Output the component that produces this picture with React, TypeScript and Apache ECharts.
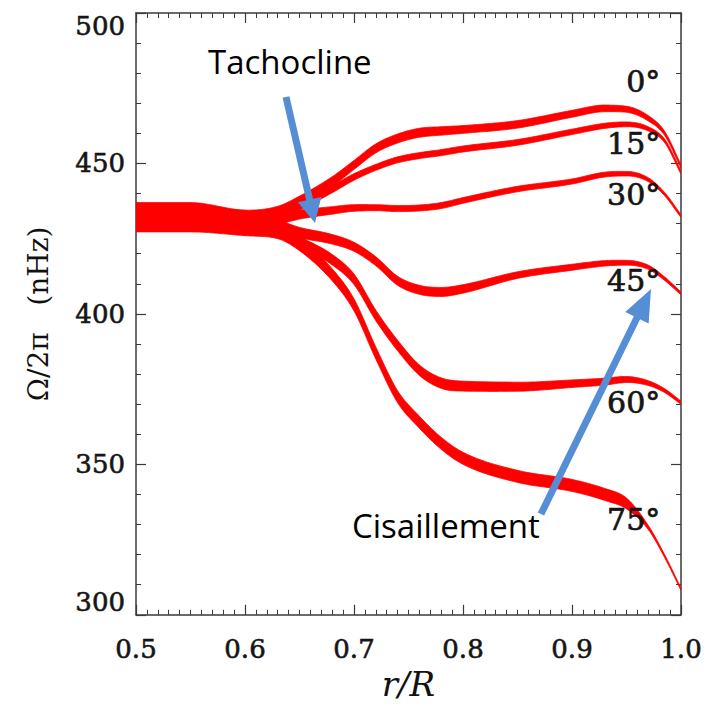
import React, { useEffect, useRef } from "react";
import * as echarts from "echarts";

// r/R sample positions shared by every latitude curve
const radius = [0.5, 0.55, 0.6, 0.63, 0.65, 0.68, 0.7, 0.72, 0.74, 0.76, 0.78, 0.8, 0.85, 0.9, 0.93, 0.95, 0.97, 0.985, 1.0];

// Ω/2π (nHz) centre of each band, and band thickness (nHz)
const omega0 = [434.5, 434.5, 432.5, 434, 437.5, 444, 449.5, 455, 458.3, 460.2, 460.8, 461.3, 463, 466.5, 468.3, 468, 465, 460, 449];
const width0 = [5, 5, 4, 3.5, 3.3, 3.2, 3, 3, 3, 3, 2.8, 2.6, 2.5, 2.3, 2.2, 2, 1.8, 1.4, 1.2];

const omega15 = [434, 434, 432, 433, 436, 441.5, 445.5, 448.7, 451.2, 452.6, 453.6, 454.8, 457, 460.5, 462.5, 463, 461.5, 457.5, 447];
const width15 = [4, 4, 4, 3.5, 3, 2.5, 2.2, 2, 2, 2, 2, 2, 1.9, 1.8, 1.7, 1.6, 1.4, 1.2, 1.1];

const omega30 = [432.5, 432.5, 431, 431.5, 433, 434.4, 435.2, 435.3, 435, 435.2, 436, 437.7, 441.5, 444, 446.3, 446.6, 444.6, 439.8, 432.5];
const width30 = [4, 4, 4, 3.5, 3, 2.5, 2.2, 2, 2, 2, 2, 1.9, 1.8, 1.7, 1.6, 1.5, 1.3, 1.1, 1];

const omega45 = [431, 431, 429.5, 429, 427, 424.8, 422.3, 417.5, 411, 408, 407.3, 408.3, 412.9, 415.5, 416.8, 417, 415.5, 411.7, 406.8];
const width45 = [4.5, 4.5, 4, 4, 3.5, 3.2, 3, 3, 3, 3, 3, 2.8, 2.2, 2, 1.8, 1.6, 1.4, 1.2, 1];

const omega60 = [430, 430, 428.5, 428, 424, 418, 411.5, 399.5, 389.5, 381.3, 377, 376, 375.8, 376.8, 377.5, 378.2, 377, 374.5, 370.5];
const width60 = [4.5, 4.5, 4, 4, 3.5, 3.5, 3.5, 3.5, 3.5, 3.5, 3.5, 3.3, 3, 2.5, 2.3, 2, 1.6, 1.3, 1.1];

const omega75 = [429.5, 429.5, 428, 427, 423, 413, 403, 387, 372.5, 364, 357, 352, 346, 343, 340, 337, 329, 319.5, 308.5];
const width75 = [4.5, 4.5, 4, 4, 4, 4, 4, 4, 4, 4, 4, 4, 4, 4, 4, 3.6, 1.4, 1, 0.8];

// latitude labels and their anchors (right edge, vertical middle) in data space
const latitudeLabels = ["0°", "15°", "30°", "45°", "60°", "75°"];
const labelR = [0.981, 0.981, 0.981, 0.981, 0.981, 0.981];
const labelOmega = [477.2, 456.7, 439.8, 411.1, 370.7, 331.7];

// axis ranges
const xMin = 0.5, xMax = 1.0, xStep = 0.1;
const yMin = 300, yMax = 500, yStep = 50;

const RED = "#ff0000";
const BLUE = "#558ed5";
const AXIS = "#3a3a3a";
const INK = "#151515";
const SERIF = "DejaVu Serif";

// monotone cubic (Fritsch–Carlson) evaluation of a curve through the given samples
function monotoneSampler(xs: number[], ys: number[]) {
  const m = xs.length;
  const h: number[] = [], d: number[] = [];
  for (let i = 0; i < m - 1; i++) {
    h[i] = xs[i + 1] - xs[i];
    d[i] = (ys[i + 1] - ys[i]) / h[i];
  }
  const t: number[] = new Array(m).fill(0);
  t[0] = d[0];
  t[m - 1] = d[m - 2];
  for (let i = 1; i < m - 1; i++) t[i] = d[i - 1] * d[i] <= 0 ? 0 : (d[i - 1] + d[i]) / 2;
  for (let i = 0; i < m - 1; i++) {
    if (d[i] === 0) { t[i] = 0; t[i + 1] = 0; continue; }
    const a = t[i] / d[i], b = t[i + 1] / d[i];
    const s = a * a + b * b;
    if (s > 9) { const tau = 3 / Math.sqrt(s); t[i] = tau * a * d[i]; t[i + 1] = tau * b * d[i]; }
  }
  return (i: number, s: number) => {
    const s2 = s * s, s3 = s2 * s;
    return (2 * s3 - 3 * s2 + 1) * ys[i] + (s3 - 2 * s2 + s) * h[i] * t[i] + (-2 * s3 + 3 * s2) * ys[i + 1] + (s3 - s2) * h[i] * t[i + 1];
  };
}

function arrow(x0: number, y0: number, x1: number, y1: number, headLen: number, headHalf: number) {
  const dx = x1 - x0, dy = y1 - y0;
  const L = Math.hypot(dx, dy);
  const ux = dx / L, uy = dy / L;
  const bx = x1 - ux * headLen, by = y1 - uy * headLen;
  const px = -uy, py = ux;
  return [
    { type: "line", shape: { x1: x0, y1: y0, x2: bx + ux * 2, y2: by + uy * 2 }, style: { stroke: BLUE, lineWidth: 7 }, z: 50 },
    {
      type: "polygon",
      shape: { points: [[x1, y1], [bx + px * headHalf, by + py * headHalf], [bx - px * headHalf, by - py * headHalf]] },
      style: { fill: BLUE },
      z: 50,
    },
  ];
}

export default function App() {
  const ref = useRef<HTMLDivElement>(null);
  useEffect(() => {
    if (!ref.current) return;
    const chart = echarts.init(ref.current, undefined, { renderer: "svg" });
    const curves = [
      { name: "0°", c: omega0, w: width0 },
      { name: "15°", c: omega15, w: width15 },
      { name: "30°", c: omega30, w: width30 },
      { name: "45°", c: omega45, w: width45 },
      { name: "60°", c: omega60, w: width60 },
      { name: "75°", c: omega75, w: width75 },
    ];
    const STEPS = 12;
    const series: any[] = curves.map((cv) => ({
      type: "custom",
      name: cv.name,
      silent: true,
      clip: true,
      z: 2,
      data: radius.map((r, k) => [r, cv.c[k]]),
      encode: { x: 0, y: 1 },
      renderItem: (params: any, api: any) => {
        if (params.dataIndex !== 0) return null;
        const fc = monotoneSampler(radius, cv.c);
        const fw = monotoneSampler(radius, cv.w);
        const upper: number[][] = [];
        const lower: number[][] = [];
        for (let i = 0; i < radius.length - 1; i++) {
          for (let s = 0; s < STEPS; s++) {
            const u = s / STEPS;
            const x = radius[i] + u * (radius[i + 1] - radius[i]);
            const c = fc(i, u), w = fw(i, u);
            upper.push(api.coord([x, c + w / 2]));
            lower.push(api.coord([x, c - w / 2]));
          }
        }
        const n = radius.length - 1;
        upper.push(api.coord([radius[n], cv.c[n] + cv.w[n] / 2]));
        lower.push(api.coord([radius[n], cv.c[n] - cv.w[n] / 2]));
        const pts = upper.concat(lower.reverse());
        return {
          type: "polygon",
          shape: { points: pts },
          style: { fill: RED, stroke: RED, lineWidth: 0.8, lineJoin: "round" },
        };
      },
    }));
    series.push({
      type: "scatter",
      name: "labels",
      symbolSize: 0,
      silent: true,
      itemStyle: { opacity: 1 },
      data: latitudeLabels.map((t, i) => ({ value: [labelR[i], labelOmega[i]], name: t })),
      label: {
        show: true,
        position: "left",
        distance: 0,
        formatter: (p: any) => p.name,
        fontFamily: SERIF,
        fontSize: 30,
        color: INK,
        textBorderColor: INK,
        textBorderWidth: 0.7,
      },
      z: 10,
    });

    const baseX = {
      type: "value",
      min: xMin,
      max: xMax,
      interval: xStep,
      splitLine: { show: false },
      axisLine: { show: true, lineStyle: { color: AXIS, width: 1.5 } },
      axisTick: { show: true, inside: true, length: 10, lineStyle: { color: AXIS, width: 1.2 } },
      minorTick: { show: true, splitNumber: 10, length: 5, lineStyle: { color: AXIS, width: 1 } },
    };
    const baseY = {
      type: "value",
      min: yMin,
      max: yMax,
      interval: yStep,
      splitLine: { show: false },
      axisLine: { show: true, lineStyle: { color: AXIS, width: 1.5 } },
      axisTick: { show: true, inside: true, length: 10, lineStyle: { color: AXIS, width: 1.2 } },
      minorTick: { show: true, splitNumber: 5, length: 5, lineStyle: { color: AXIS, width: 1 } },
    };

    const tickText = {
      fontFamily: SERIF,
      fontSize: 26,
      color: INK,
      textBorderColor: INK,
      textBorderWidth: 0.6,
    };

    chart.setOption({
      animation: false,
      backgroundColor: "#ffffff",
      grid: { left: 136, top: 13, right: 34, bottom: 88, containLabel: false },
      xAxis: [
        {
          ...baseX,
          position: "bottom",
          name: "r/R",
          nameLocation: "middle",
          nameGap: 52,
          nameTextStyle: { fontFamily: SERIF, fontStyle: "italic", fontSize: 34, color: "#111" },
          axisLabel: {
            ...tickText,
            margin: 21,
            formatter: (v: number) => v.toFixed(1),
          },
        },
        { ...baseX, position: "top", axisLabel: { show: false } },
      ],
      yAxis: [
        {
          ...baseY,
          position: "left",
          name: "Ω/2π   (nHz)",
          nameLocation: "middle",
          nameRotate: 90,
          nameGap: 84,
          nameTextStyle: { fontFamily: SERIF, fontSize: 28, color: "#111" },
          axisLabel: {
            ...tickText,
            margin: 11,
            verticalAlignMinLabel: "bottom",
            verticalAlignMaxLabel: "top",
          },
        },
        { ...baseY, position: "right", axisLabel: { show: false } },
      ],
      graphic: [
        ...arrow(286, 97, 315, 223, 24, 12),
        ...arrow(541, 514, 651, 289, 32, 13),
        {
          type: "text",
          left: 208,
          top: 45,
          style: { text: "Tachocline", fontFamily: "Open Sans", fontSize: 33, fill: "#000" },
          z: 60,
        },
        {
          type: "text",
          left: 352,
          top: 509,
          style: { text: "Cisaillement", fontFamily: "Open Sans", fontSize: 33, fill: "#000" },
          z: 60,
        },
      ],
      series,
    });
    return () => chart.dispose();
  }, []);
  return <div ref={ref} style={{ position: "fixed", left: 0, top: 0, width: 715, height: 706, background: "#fff" }} />;
}
